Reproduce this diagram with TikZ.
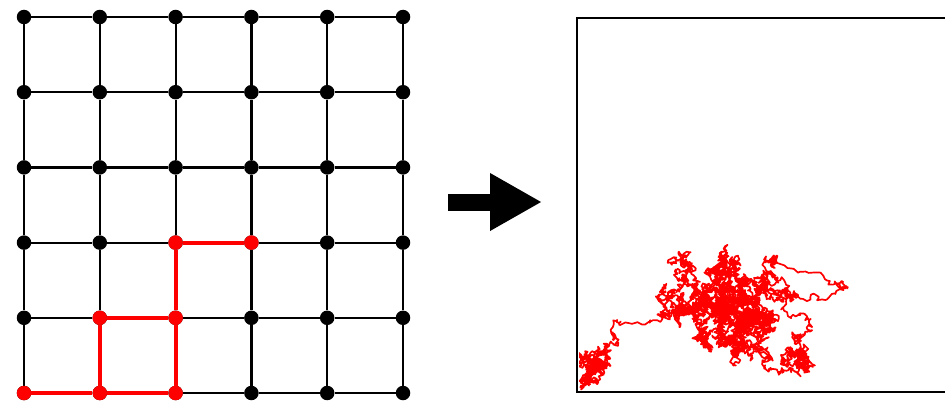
\documentclass[tikz,border=0pt]{standalone}
\usetikzlibrary{arrows.meta}

\begin{document}
\begin{tikzpicture}[x=1pt, y=-1pt,
  dot/.style={circle, fill=black, inner sep=0pt, minimum size=14.5pt},
  hit dot/.style={dot, fill=red},
  lattice edge/.style={line width=2.2pt, draw=black},
  path edge/.style={line width=4pt, draw=red},
  walk/.style={draw=red, line width=1.7pt, line join=round},
  frame/.style={line width=2pt, draw=black},
  big arrow/.style={line width=17pt, -{Triangle[length=52pt,width=54pt]}}
]
\useasboundingbox (0,0) rectangle (945,404);

% lattice sites
\foreach \i in {0,...,5}
  \foreach \j in {0,...,5}
    \node[dot] (v\i\j) at ({24+75.8*\i},{17+75.2*\j}) {};

% lattice bonds
\foreach \i [count=\k from 1] in {0,...,4}
  \foreach \j in {0,...,5} {
    \draw[lattice edge] (v\i\j) -- (v\k\j);
    \draw[lattice edge] (v\j\i) -- (v\j\k);
  }

% the walk on the lattice
\draw[path edge] (v05) -- (v15) -- (v25) -- (v24) -- (v23) -- (v33);
\draw[path edge] (v15) -- (v14) -- (v24);
\foreach \p in {05,15,25,14,24,23,33}
  \node[hit dot] (r\p) at (v\p) {};

% scaling limit
\coordinate (arrow tail) at (448,202);
\coordinate (arrow head) at (542,202);
\draw[big arrow] (arrow tail) -- (arrow head);

% frame of the continuum picture
\coordinate (frame tl) at (577,18);
\coordinate (frame bl) at (577,392);
\draw[frame] (945,18) -- (frame tl) -- (frame bl) -- (945,392);

% brownian path
\pgfmathsetseed{2718}
\xdef\wx{583}\xdef\wy{388}
\begin{scope}
\clip (579,20) rectangle (945,391);
\foreach \tx/\ty/\n/\k in {600/375/450/0.015, 610/345/40/0.08, 622/330/40/0.08,
    672/312/50/0.08, 724/318/700/0.0035, 724/318/700/0.0035, 724/318/700/0.0035,
    724/318/700/0.0035, 724/318/700/0.0035, 720/258/450/0.013, 725/312/200/0.02,
    772/266/450/0.013, 842/290/40/0.1, 790/300/60/0.06, 800/358/450/0.018,
    760/335/200/0.02} {
  \xdef\walkpath{(\wx,\wy)}
  \foreach \s in {1,...,\n} {
    \pgfmathsetmacro\nx{\wx+3.2*rand+\k*(\tx-\wx)}
    \pgfmathsetmacro\ny{\wy+3.2*rand+\k*(\ty-\wy)}
    \xdef\wx{\nx}\xdef\wy{\ny}
    \xdef\walkpath{\walkpath -- (\wx,\wy)}
  }
  \edef\walkdraw{\noexpand\draw[walk] \walkpath;}\walkdraw
}
\end{scope}
\end{tikzpicture}
\end{document}
